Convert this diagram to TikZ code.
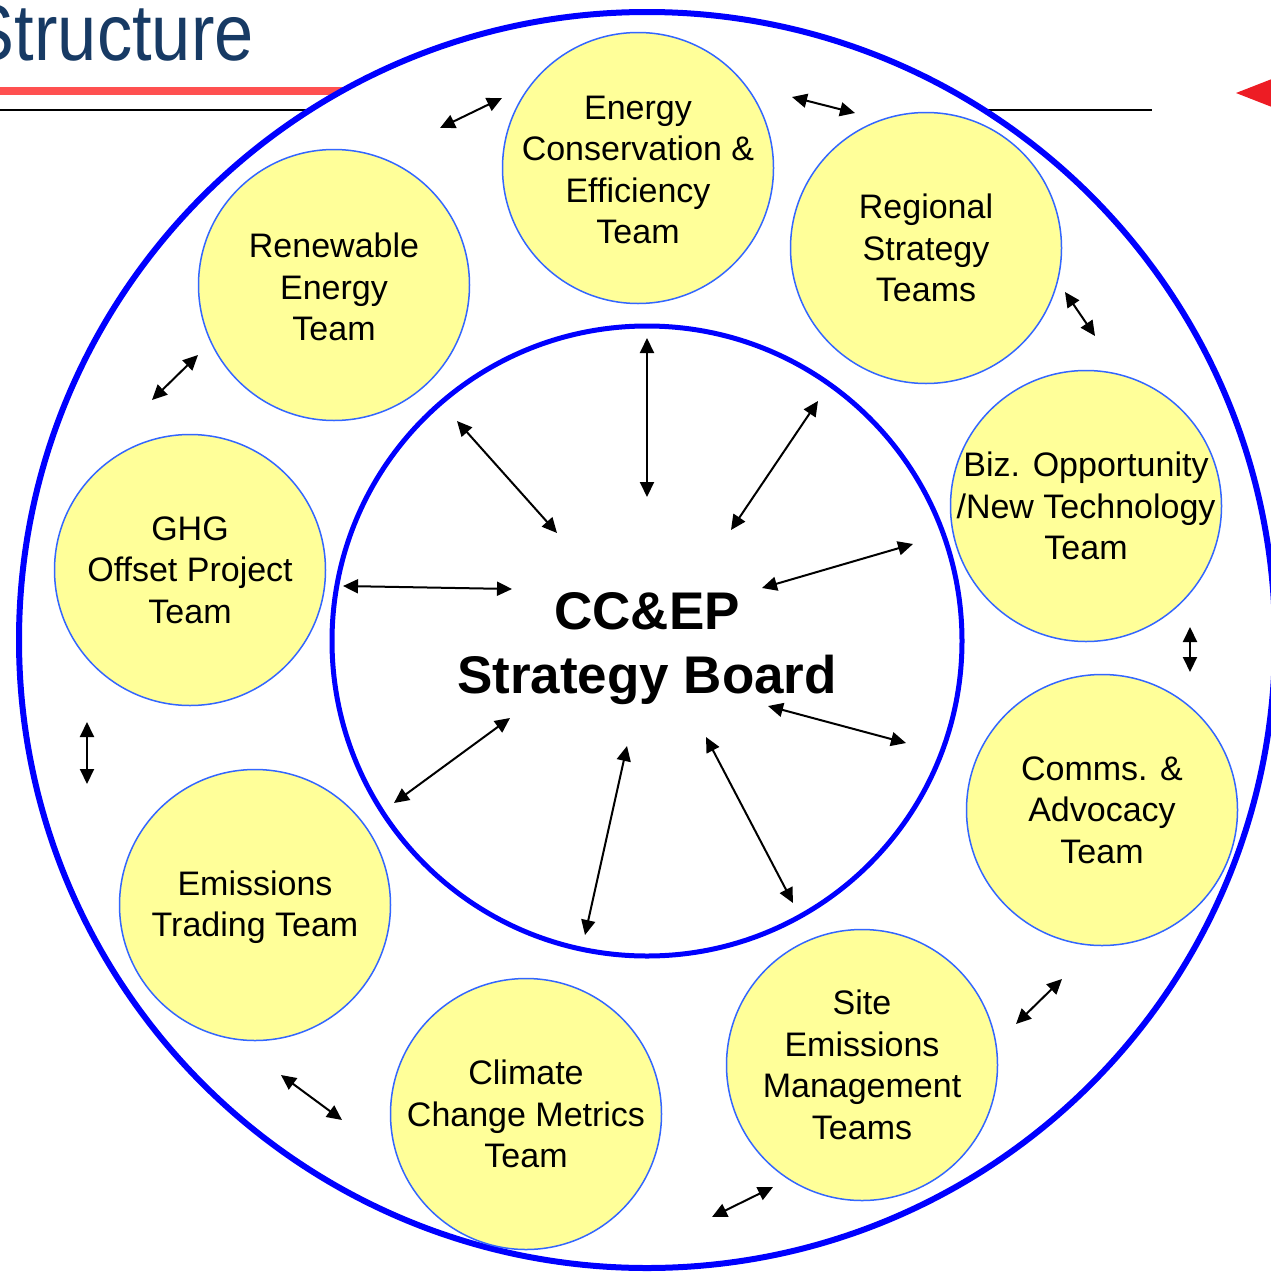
\documentclass[tikz,border=0pt]{standalone}
\usepackage{fontspec}
\setmainfont{Liberation Sans}
\usepackage{graphicx}
\usepackage{xcolor}
\usetikzlibrary{arrows.meta,positioning}
\definecolor{mnavy}{HTML}{173A64}
\definecolor{mred}{HTML}{FF5050}
\definecolor{tred}{HTML}{ED1C24}
\definecolor{mring}{HTML}{0000FF}
\definecolor{mteam}{HTML}{FFFF99}
\definecolor{medge}{HTML}{3366FF}
\tikzstyle{l1}=[line width=2.5pt]
\tikzstyle{l2}=[line width=1pt]
\tikzstyle{ring}=[circle, draw=mring, inner sep=0pt]
\tikzstyle{team}=[circle, draw=medge, fill=mteam, line width=0.75pt, minimum size=135.5pt, inner sep=0pt]
\tikzstyle{teamtext}=[align=center, inner sep=0pt, font=\fontsize{17}{20.75}\selectfont]
\tikzstyle{link}=[l2, {Triangle[length=7.5pt,width=7pt]}-{Triangle[length=7.5pt,width=7pt]}]

\begin{document}
\begin{tikzpicture}[x=0.5pt, y=-0.5pt]
    \useasboundingbox (0,0) rectangle (1270,1274);

    % heading
    \node (title) [anchor=base east, text=mnavy, inner sep=0pt, font=\fontsize{40}{40}\selectfont] at (254,60) {\scalebox{0.88}[1]{Structure}};
    \draw[line width=4pt, color=mred] (-10,91) -- (600,91);
    \draw[l2] (-10,110) -- (1152,110);
    \fill[tred] (1236,93) -- (1300,68) -- (1300,118) -- cycle;

    \node (outer) [ring, fill=white, minimum size=628pt, line width=3pt] at (647,640) {};
    \node (board) [ring, minimum size=315pt, l1] at (647,641) {};
    \node (boardtext) [align=center, font=\fontsize{26.5}{32}\selectfont\bfseries] at (647,649) {CC\&EP\\Strategy Board};

    \node (energy) [team] at (638,168) {};
    \node (regional) [team] at (926,248) {};
    \node (biz) [team] at (1086,506) {};
    \node (comms) [team] at (1102,810) {};
    \node (site) [team] at (862,1065) {};
    \node (metrics) [team] at (526,1114) {};
    \node (trading) [team] at (255,905) {};
    \node (ghg) [team] at (190,570) {};
    \node (renew) [team] at (334,285) {};

    \node [teamtext] at ([yshift=-1pt]energy) {Energy\\Conservation \&\\Efficiency\\Team};
    \node [teamtext] at (regional) {Regional\\Strategy\\Teams};
    \node [teamtext] at (biz) {Biz. Opportunity\\/New Technology\\Team};
    \node [teamtext] at (comms) {Comms. \&\\Advocacy\\Team};
    \node [teamtext] at (site) {Site\\Emissions\\Management\\Teams};
    \node [teamtext] at (metrics) {Climate\\Change Metrics\\Team};
    \node [teamtext] at ([yshift=-1pt]trading) {Emissions\\Trading Team};
    \node [teamtext] at (ghg) {GHG\\Offset Project\\Team};
    \node [teamtext] at ([yshift=-1pt]renew) {Renewable\\Energy\\Team};

    % arrows round the ring, then to the board
    \foreach \ax/\ay/\bx/\by [count=\i] in {
        440/128/502/98, 792/97/855/113, 1065/292/1095/336,
        1190/627/1190/672, 1062/979/1016/1024, 773/1187/712/1217,
        342/1120/281/1075, 87/722/87/784, 198/355/152/400,
        647/338/647/497, 818/401/731/530, 913/544/762/588,
        906/743/768/706, 793/903/706/737, 627/746/585/935,
        510/718/394/803, 512/589/343/586, 557/533/457/421} {
        \coordinate (p\i) at (\ax,\ay);
        \coordinate (q\i) at (\bx,\by);
        \draw[link] (p\i) -- (q\i);
    }

\end{tikzpicture}
\end{document}
